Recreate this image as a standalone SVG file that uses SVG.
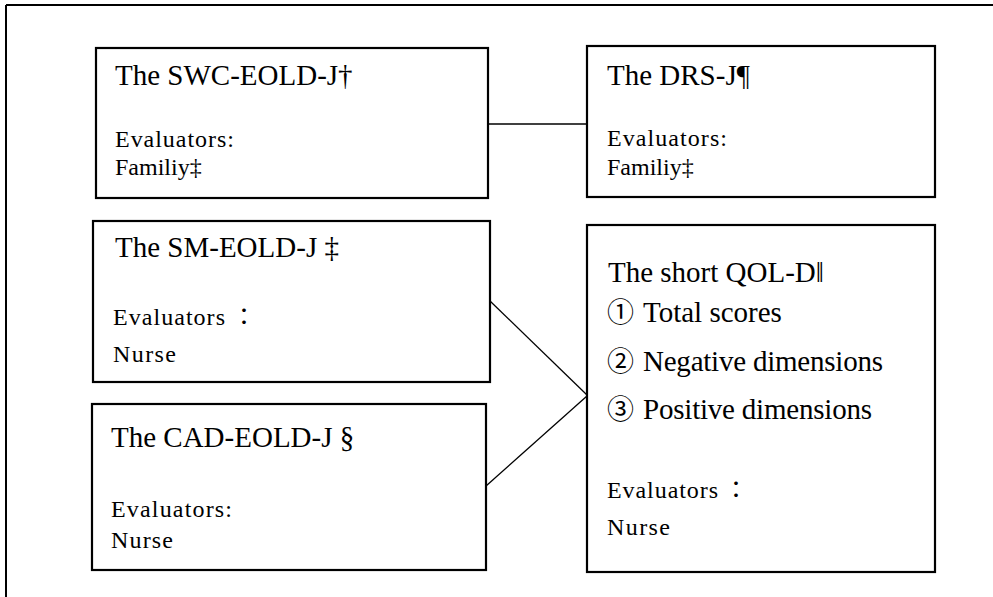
<svg xmlns="http://www.w3.org/2000/svg" width="993" height="597" viewBox="0 0 993 597">
<style>
.box{fill:#fff;stroke:#000;stroke-width:2.2}
.ln{stroke:#000;stroke-width:1.3;fill:none}
.t{font-size:29px}
.b{font-size:24px}
.c{font-family:'Noto Sans CJK JP','Liberation Serif',serif;font-size:27px}
</style>
<rect width="993" height="597" fill="#fff"/>
<g id="frame">
<line x1="6" y1="5" x2="993" y2="5" class="ln" style="stroke-width:2"/>
<line x1="6" y1="5" x2="6" y2="597" class="ln" style="stroke-width:2"/>
</g>
<g id="connectors">
<line x1="488" y1="124" x2="587" y2="124" class="ln"/>
<line x1="490" y1="301" x2="587" y2="395" class="ln"/>
<line x1="486" y1="486" x2="587" y2="396" class="ln"/>
</g>
<g font-family="'Liberation Serif', 'Times New Roman', 'Noto Sans CJK JP', serif" fill="#000">
<g id="swc">
<rect x="96" y="48" width="392" height="150" class="box"/>
<text x="115" y="85" class="t">The SWC-EOLD-J†</text>
<text x="115" y="147" class="b" textLength="119" lengthAdjust="spacing">Evaluators:</text>
<text x="115" y="175" class="b">Familiy‡</text>
</g>
<g id="drs">
<rect x="587" y="46" width="348" height="151" class="box"/>
<text x="607" y="85" class="t">The DRS-J¶</text>
<text x="607" y="146" class="b" textLength="120" lengthAdjust="spacing">Evaluators:</text>
<text x="607" y="175" class="b">Familiy‡</text>
</g>
<g id="sm">
<rect x="93" y="221" width="397" height="161" class="box"/>
<text x="115" y="257" class="t">The SM-EOLD-J ‡</text>
<text x="113" y="325" class="b"><tspan textLength="112" lengthAdjust="spacing">Evaluators</tspan><tspan x="232">：</tspan></text>
<text x="113" y="362" class="b" textLength="63" lengthAdjust="spacing">Nurse</text>
</g>
<g id="cad">
<rect x="92" y="404" width="394" height="166" class="box"/>
<text x="111" y="447" class="t">The CAD-EOLD-J §</text>
<text x="111" y="517" class="b" textLength="121" lengthAdjust="spacing">Evaluators:</text>
<text x="111" y="548" class="b" textLength="62" lengthAdjust="spacing">Nurse</text>
</g>
<g id="qol">
<rect x="587" y="225" width="348" height="347" class="box"/>
<text x="608" y="282" class="t">The short QOL-D‖</text>
<text x="607" y="322" class="c">①</text><text x="643" y="322" class="t">Total scores</text>
<text x="607" y="371" class="c">②</text><text x="643" y="371" class="t" textLength="240" lengthAdjust="spacing">Negative dimensions</text>
<text x="607" y="419" class="c">③</text><text x="643" y="419" class="t" textLength="229" lengthAdjust="spacing">Positive dimensions</text>
<text x="607" y="498" class="b"><tspan textLength="111" lengthAdjust="spacing">Evaluators</tspan><tspan x="724">：</tspan></text>
<text x="607" y="535" class="b" textLength="63" lengthAdjust="spacing">Nurse</text>
</g>
</g>
</svg>
